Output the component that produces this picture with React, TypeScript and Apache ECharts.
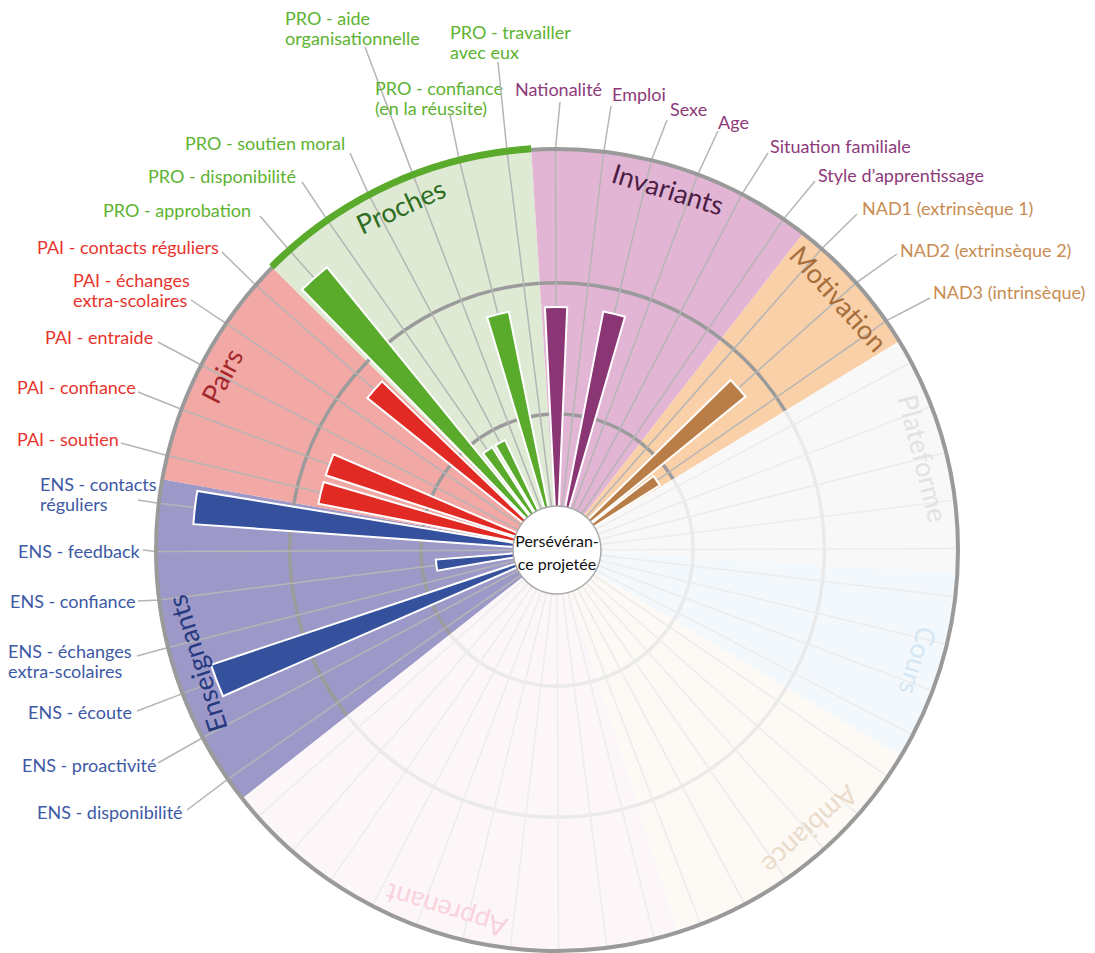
import React, { useEffect, useRef } from "react";
import * as echarts from "echarts";

// ---------------- data ----------------
const GROUPS = ["Enseignants", "Pairs", "Proches", "Invariants", "Motivation", "Plateforme", "Cours", "Ambiance", "Apprenant"];
const GROUP_SIZES = [7, 5, 6, 6, 3, 5, 4, 6, 10];

const LABELED_CATEGORIES = [
  "ENS - disponibilité", "ENS - proactivité", "ENS - écoute", "ENS - échanges\nextra-scolaires", "ENS - confiance", "ENS - feedback", "ENS - contacts\nréguliers",
  "PAI - soutien", "PAI - confiance", "PAI - entraide", "PAI - échanges\nextra-scolaires", "PAI - contacts réguliers",
  "PRO - approbation", "PRO - disponibilité", "PRO - soutien moral", "PRO - aide\norganisationnelle", "PRO - confiance\n(en la réussite)", "PRO - travailler\navec eux",
  "Nationalité", "Emploi", "Sexe", "Age", "Situation familiale", "Style d’apprentissage",
  "NAD1 (extrinsèque 1)", "NAD2 (extrinsèque 2)", "NAD3 (intrinsèque)",
];

// value per labelled category (null = no bar)
const VALUES_MAIN: (number | null)[] = [
  null, null, 3, null, 1, null, 3,
  2, 2, null, null, 2,
  3, 1, 1, null, 2, null,
  2, null, 2, null, null, null,
  null, 2, 1,
];

// hidden (faded) category slots of the last four groups
const HIDDEN_CATEGORIES: string[] = [];
GROUPS.forEach((g, gi) => {
  if (gi >= 5) for (let i = 1; i <= GROUP_SIZES[gi]; i++) HIDDEN_CATEGORIES.push(g + " " + i);
});
const CATEGORIES = [...LABELED_CATEGORIES, ...HIDDEN_CATEGORIES];
const VALUES = [...VALUES_MAIN, ...HIDDEN_CATEGORIES.map(() => null)];

// ---------------- layout / style ----------------
const RMAX = 3.3;
const R_INNER = 0.362;
const GRID_LEVELS = [1.12, 2.2];
const GROUP_LABEL_R = 3.11;
const GROUP_LABEL_SHIFT = [-0.5, 0, 0, 0, 0, 0, 0, -0.55, 0];
const LINE_H = 20;

// [textLeft, textMiddleOfFirstLine, anchorX, anchorY]
const LABEL_POS: [number, number, number, number][] = [
  [37, 812, 187, 810], [22, 765, 158, 763], [28, 712, 137, 711], [8, 651, 137, 656], [10, 601, 138, 601], [18, 551, 143, 550], [40, 484, 138, 500],
  [17, 439, 121, 443], [17, 387, 138, 392], [45, 337, 158, 342], [73, 280, 191, 300], [37, 247, 222, 252],
  [103, 210, 260, 216], [148, 176, 302, 182], [185, 143, 350, 153], [285, 18, 365, 47], [375, 88, 450, 115], [450, 32, 498, 62],
  [515, 89, 560, 102], [612, 94, 611, 106], [670, 109, 667, 120], [718, 122, 718, 131], [770, 146, 768, 153], [818, 175, 815, 181],
  [862, 208, 857, 214], [900, 250, 897, 254], [933, 292, 930, 298],
];

const GROUP_BG = ["#9c99c9", "#f2a8a5", "#dfead5", "#e2b5d5", "#f9d0a8", "#f8f8f8", "#f3f8fc", "#fdf9f4", "#fdf6f8"];
const GROUP_BAR = ["#35519d", "#e12a23", "#5aab2b", "#8a3574", "#b97e48", "#ccc", "#ccc", "#ccc", "#ccc"];
const GROUP_TEXT = ["#3d59a5", "#e8332d", "#5db331", "#8d3a7a", "#c88c52", "#ccc", "#ccc", "#ccc", "#ccc"];
const GROUP_TITLE = ["#273a80", "#a3282c", "#2e6d21", "#4b1d44", "#a66e3b", "#e2e2e2", "#d6e7f4", "#eadbcb", "#f8d2dc"];
const FONT = "Lato, 'Open Sans', sans-serif";

function buildOption() {
  const groupOf: number[] = [];
  GROUP_SIZES.forEach((n, g) => { for (let i = 0; i < n; i++) groupOf.push(g); });
  const groupItems: number[][] = [];
  let start = 0;
  GROUP_SIZES.forEach((n, g) => { groupItems.push([RMAX, start, start + n - 1, g]); start += n; });

  const info = (params: any, api: any) => {
    const cs = params.coordSys;
    const cx = cs.cx, cy = cs.cy;
    const rOf = (v: number) => { const p = api.coord([v, 0]); return Math.hypot(p[0] - cx, p[1] - cy); };
    const angOf = (idx: number) => { const p = api.coord([RMAX, idx]); return Math.atan2(p[1] - cy, p[0] - cx); };
    const band = api.size([0, 1], [0, 0])[1];
    const span = (a: number, b: number) => {
      const s = angOf(a) - band / 2;
      let e = angOf(b) + band / 2;
      while (e <= s) e += Math.PI * 2;
      return [s, e];
    };
    return { cx, cy, rOf, angOf, band, span };
  };

  const bgSeries = {
    type: "custom", coordinateSystem: "polar", silent: true, clip: false, z: 1,
    data: groupItems,
    renderItem: (params: any, api: any) => {
      const { cx, cy, rOf, span } = info(params, api);
      const a = api.value(1), b = api.value(2), g = api.value(3);
      const [s, e] = span(a, b);
      const faded = g >= 5;
      const children: any[] = [
        { type: "sector", shape: { cx, cy, r0: 0, r: rOf(RMAX), startAngle: s, endAngle: e, clockwise: true }, style: { fill: GROUP_BG[g] } },
      ];
      GRID_LEVELS.forEach((lv) => {
        children.push({ type: "arc", shape: { cx, cy, r: rOf(lv), startAngle: s, endAngle: e, clockwise: true }, style: { stroke: faded ? "#eaeaea" : "#9b9b9b", lineWidth: 3.5, fill: null } });
      });
      return { type: "group", children };
    },
  };

  const spokeSeries = {
    type: "custom", coordinateSystem: "polar", silent: true, clip: false, z: 2,
    data: CATEGORIES.map((_, i) => [RMAX, i]),
    renderItem: (params: any, api: any) => {
      const { cx, cy, rOf, angOf } = info(params, api);
      const idx = api.value(1);
      const g = groupOf[idx];
      const faded = g >= 5;
      const ang = angOf(idx);
      const r0 = rOf(R_INNER), r1 = rOf(RMAX);
      const pIn = [cx + r0 * Math.cos(ang), cy + r0 * Math.sin(ang)];
      const pOut = [cx + r1 * Math.cos(ang), cy + r1 * Math.sin(ang)];
      const children: any[] = [];
      if (idx < LABELED_CATEGORIES.length) {
        const L = LABEL_POS[idx];
        children.push({ type: "polyline", shape: { points: [pIn, pOut, [L[2], L[3]]] }, style: { stroke: "#b5b5b5", lineWidth: 1.5, fill: null } });
        children.push({
          type: "text", x: L[0], y: L[1] - LINE_H / 2,
          style: { text: CATEGORIES[idx], font: "18px " + FONT, fontSize: 18, fontFamily: FONT, fill: GROUP_TEXT[g], align: "left", verticalAlign: "top", textAlign: "left", textVerticalAlign: "top", lineHeight: LINE_H },
        });
      } else {
        children.push({ type: "line", shape: { x1: pIn[0], y1: pIn[1], x2: pOut[0], y2: pOut[1] }, style: { stroke: faded ? "#ececec" : "#b5b5b5", lineWidth: 1.5 } });
      }
      return { type: "group", children };
    },
  };

  const barSeries = {
    type: "bar", coordinateSystem: "polar", z: 3, silent: true,
    barWidth: "76%",
    data: VALUES.map((v, i) => (v == null ? "-" : { value: v, itemStyle: { color: GROUP_BAR[groupOf[i]] } })),
    itemStyle: { borderColor: "#ffffff", borderWidth: 2 },
  };

  const frameSeries = {
    type: "custom", coordinateSystem: "polar", silent: true, clip: false, z: 4,
    data: [[RMAX, 0]],
    renderItem: (params: any, api: any) => {
      const { cx, cy, rOf, span } = info(params, api);
      const pr = groupItems[2];
      const [s, e] = span(pr[1], pr[2]);
      const rIn = rOf(R_INNER);
      return {
        type: "group",
        children: [
          { type: "circle", shape: { cx, cy, r: rOf(RMAX) }, style: { fill: null, stroke: "#9a9a9a", lineWidth: 4 } },
          { type: "arc", shape: { cx, cy, r: rOf(RMAX) + 1, startAngle: s, endAngle: e, clockwise: true }, style: { stroke: "#5aab2b", lineWidth: 7, fill: null } },
          { type: "circle", shape: { cx, cy, r: rIn }, style: { fill: "#ffffff", stroke: "#a8a8a8", lineWidth: 1.5 } },
          {
            type: "text", x: cx, y: cy + 2,
            style: { text: "Persévéran-\nce projetée", font: "16px " + FONT, fontSize: 16, fontFamily: FONT, fill: "#111", align: "center", verticalAlign: "middle", textAlign: "center", textVerticalAlign: "middle", lineHeight: 23 },
          },
        ],
      };
    },
  };

  const titleSeries = {
    type: "custom", coordinateSystem: "polar", silent: true, clip: false, z: 5,
    data: groupItems,
    renderItem: (params: any, api: any) => {
      const { cx, cy, rOf, span, band } = info(params, api);
      const a = api.value(1), b = api.value(2), g = api.value(3);
      const [s, e] = span(a, b);
      const mid = (s + e) / 2 + GROUP_LABEL_SHIFT[g] * band;
      const r = rOf(GROUP_LABEL_R);
      return {
        type: "text",
        x: cx + r * Math.cos(mid), y: cy + r * Math.sin(mid),
        rotation: -(mid + Math.PI / 2),
        style: { text: GROUPS[g], font: "27px " + FONT, fontSize: 27, fontFamily: FONT, fill: GROUP_TITLE[g], align: "center", verticalAlign: "middle", textAlign: "center", textVerticalAlign: "middle" },
      };
    },
  };

  return {
    animation: false,
    backgroundColor: "#ffffff",
    polar: { center: [557, 550], radius: [0, 401] },
    angleAxis: {
      type: "category", data: CATEGORIES, startAngle: 218.3, clockwise: true,
      axisLine: { show: false }, axisTick: { show: false }, axisLabel: { show: false }, splitLine: { show: false },
    },
    radiusAxis: {
      type: "value", min: 0, max: RMAX,
      axisLine: { show: false }, axisTick: { show: false }, axisLabel: { show: false }, splitLine: { show: false },
    },
    series: [bgSeries, spokeSeries, barSeries, frameSeries, titleSeries],
  };
}

export default function App() {
  const ref = useRef<HTMLDivElement>(null);
  useEffect(() => {
    if (!ref.current) return;
    const chart = echarts.init(ref.current, undefined, { renderer: "svg" });
    chart.setOption(buildOption() as any);
    return () => chart.dispose();
  }, []);
  return <div ref={ref} style={{ position: "absolute", left: 0, top: 0, width: 1095, height: 953 }} />;
}
